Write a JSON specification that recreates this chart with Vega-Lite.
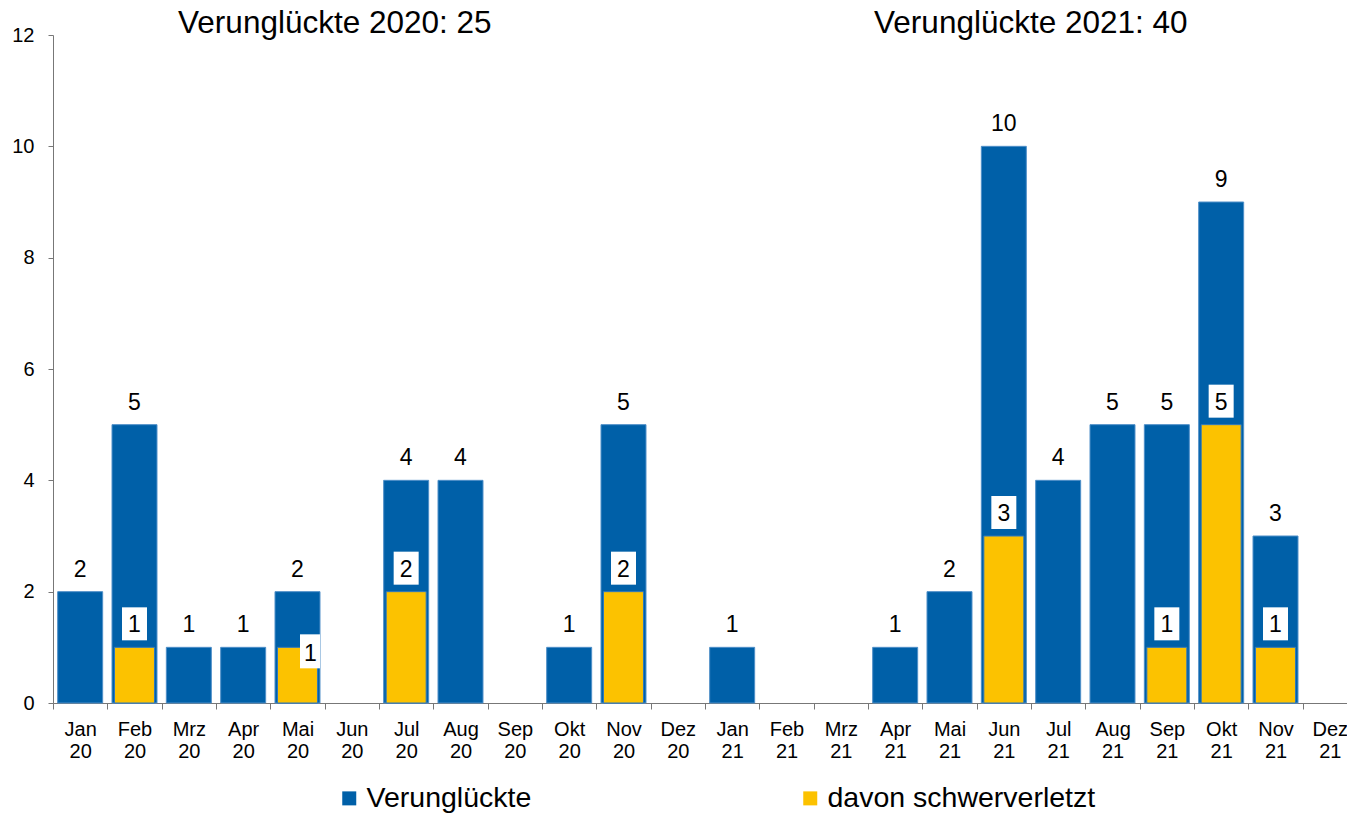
{
  "$schema": "https://vega.github.io/schema/vega-lite/v6.json",
  "width": 1294,
  "height": 668,
  "autosize": {"type": "none"},
  "padding": {"left": 53, "top": 35, "right": 0, "bottom": 112},
  "background": "white",
  "config": {
    "view": {"stroke": null},
    "font": "Liberation Sans",
    "text": {"font": "Liberation Sans"}
  },
  "data": {
    "values": [
      {"month": "Jan 20", "series": "Verunglückte", "value": 2},
      {"month": "Feb 20", "series": "Verunglückte", "value": 5},
      {"month": "Mrz 20", "series": "Verunglückte", "value": 1},
      {"month": "Apr 20", "series": "Verunglückte", "value": 1},
      {"month": "Mai 20", "series": "Verunglückte", "value": 2},
      {"month": "Jul 20", "series": "Verunglückte", "value": 4},
      {"month": "Aug 20", "series": "Verunglückte", "value": 4},
      {"month": "Okt 20", "series": "Verunglückte", "value": 1},
      {"month": "Nov 20", "series": "Verunglückte", "value": 5},
      {"month": "Jan 21", "series": "Verunglückte", "value": 1},
      {"month": "Apr 21", "series": "Verunglückte", "value": 1},
      {"month": "Mai 21", "series": "Verunglückte", "value": 2},
      {"month": "Jun 21", "series": "Verunglückte", "value": 10},
      {"month": "Jul 21", "series": "Verunglückte", "value": 4},
      {"month": "Aug 21", "series": "Verunglückte", "value": 5},
      {"month": "Sep 21", "series": "Verunglückte", "value": 5},
      {"month": "Okt 21", "series": "Verunglückte", "value": 9},
      {"month": "Nov 21", "series": "Verunglückte", "value": 3},
      {"month": "Feb 20", "series": "davon schwerverletzt", "value": 1},
      {"month": "Mai 20", "series": "davon schwerverletzt", "value": 1},
      {"month": "Jul 20", "series": "davon schwerverletzt", "value": 2},
      {"month": "Nov 20", "series": "davon schwerverletzt", "value": 2},
      {"month": "Jun 21", "series": "davon schwerverletzt", "value": 3},
      {"month": "Sep 21", "series": "davon schwerverletzt", "value": 1},
      {"month": "Okt 21", "series": "davon schwerverletzt", "value": 5},
      {"month": "Nov 21", "series": "davon schwerverletzt", "value": 1}
    ]
  },
  "encoding": {
    "x": {
      "field": "month",
      "type": "ordinal",
      "scale": {
        "domain": ["Jan 20", "Feb 20", "Mrz 20", "Apr 20", "Mai 20", "Jun 20", "Jul 20", "Aug 20", "Sep 20", "Okt 20", "Nov 20", "Dez 20",
                   "Jan 21", "Feb 21", "Mrz 21", "Apr 21", "Mai 21", "Jun 21", "Jul 21", "Aug 21", "Sep 21", "Okt 21", "Nov 21", "Dez 21"],
        "range": [0, 1304],
        "paddingInner": 0,
        "paddingOuter": 0
      },
      "axis": {
        "title": null,
        "labelAngle": 0,
        "labelExpr": "split(datum.label, ' ')",
        "labelFontSize": 20,
        "labelLineHeight": 22,
        "labelPadding": 10,
        "labelColor": "#000000",
        "tickBand": "extent",
        "tickSize": 6,
        "tickColor": "#777777",
        "domainColor": "#777777",
        "grid": false
      }
    }
  },
  "layer": [
    {
      "transform": [{"filter": "datum.series == 'Verunglückte'"}],
      "mark": {"type": "bar", "width": {"band": 0.828}, "stroke": "#4f8fc8", "strokeWidth": 1},
      "encoding": {
        "y": {
          "field": "value",
          "type": "quantitative",
          "scale": {"domain": [0, 12], "nice": false},
          "axis": {
            "title": null,
            "values": [0, 2, 4, 6, 8, 10, 12],
            "format": "d",
            "grid": false,
            "labelFontSize": 20,
            "labelPadding": 14,
            "labelColor": "#000000",
            "tickSize": 5,
            "tickColor": "#777777",
            "domainColor": "#777777"
          }
        },
        "color": {
          "field": "series",
          "type": "nominal",
          "scale": {"domain": ["Verunglückte", "davon schwerverletzt"], "range": ["#0060A8", "#FCC200"]},
          "legend": {
            "title": null,
            "orient": "none",
            "legendX": 282,
            "legendY": 749,
            "direction": "horizontal",
            "symbolType": "square",
            "symbolSize": 196,
            "symbolStrokeWidth": 0,
            "labelFontSize": 28.5,
            "labelColor": "#000000",
            "labelOffset": 3,
            "columnPadding": 264,
            "padding": 0,
            "labelLimit": 400
          }
        }
      }
    },
    {
      "transform": [{"filter": "datum.series == 'davon schwerverletzt'"}],
      "mark": {"type": "bar", "width": {"band": 0.736}, "stroke": "#2f78bd", "strokeWidth": 1},
      "encoding": {
        "y": {"field": "value", "type": "quantitative"},
        "color": {"field": "series", "type": "nominal"}
      }
    },
    {
      "transform": [{"filter": "datum.series == 'Verunglückte'"}],
      "mark": {"type": "text", "fontSize": 23, "baseline": "alphabetic", "dy": -15, "color": "#000000"},
      "encoding": {
        "y": {"field": "value", "type": "quantitative"},
        "text": {"field": "value", "type": "quantitative"}
      }
    },
    {
      "transform": [{"filter": "datum.series == 'davon schwerverletzt' && datum.month != 'Mai 20'"}],
      "mark": {"type": "bar", "width": 25, "fill": "#ffffff", "yOffset": -40, "y2Offset": -7},
      "encoding": {
        "y": {"field": "value", "type": "quantitative"},
        "y2": {"field": "value"}
      }
    },
    {
      "transform": [{"filter": "datum.series == 'davon schwerverletzt' && datum.month != 'Mai 20'"}],
      "mark": {"type": "text", "fontSize": 23, "baseline": "alphabetic", "dy": -15, "color": "#000000"},
      "encoding": {
        "y": {"field": "value", "type": "quantitative"},
        "text": {"field": "value", "type": "quantitative"}
      }
    },
    {
      "transform": [{"filter": "datum.series == 'davon schwerverletzt' && datum.month == 'Mai 20'"}],
      "mark": {"type": "bar", "width": 20, "fill": "#ffffff", "xOffset": 12.5, "yOffset": -13, "y2Offset": 21},
      "encoding": {
        "y": {"field": "value", "type": "quantitative"},
        "y2": {"field": "value"}
      }
    },
    {
      "transform": [{"filter": "datum.series == 'davon schwerverletzt' && datum.month == 'Mai 20'"}],
      "mark": {"type": "text", "fontSize": 23, "baseline": "alphabetic", "dx": 13, "dy": 14, "color": "#000000"},
      "encoding": {
        "y": {"field": "value", "type": "quantitative"},
        "text": {"field": "value", "type": "quantitative"}
      }
    },
    {
      "data": {"values": [{"label": "Verunglückte 2020: 25"}]},
      "mark": {"type": "text", "fontSize": 31.5, "baseline": "alphabetic", "dx": -17, "dy": -2, "color": "#000000"},
      "encoding": {
        "x": {"datum": "Jun 20"},
        "y": {"datum": 12},
        "text": {"field": "label", "type": "nominal"}
      }
    },
    {
      "data": {"values": [{"label": "Verunglückte 2021: 40"}]},
      "mark": {"type": "text", "fontSize": 31.5, "baseline": "alphabetic", "dx": 27, "dy": -2, "color": "#000000"},
      "encoding": {
        "x": {"datum": "Jun 21"},
        "y": {"datum": 12},
        "text": {"field": "label", "type": "nominal"}
      }
    }
  ]
}
